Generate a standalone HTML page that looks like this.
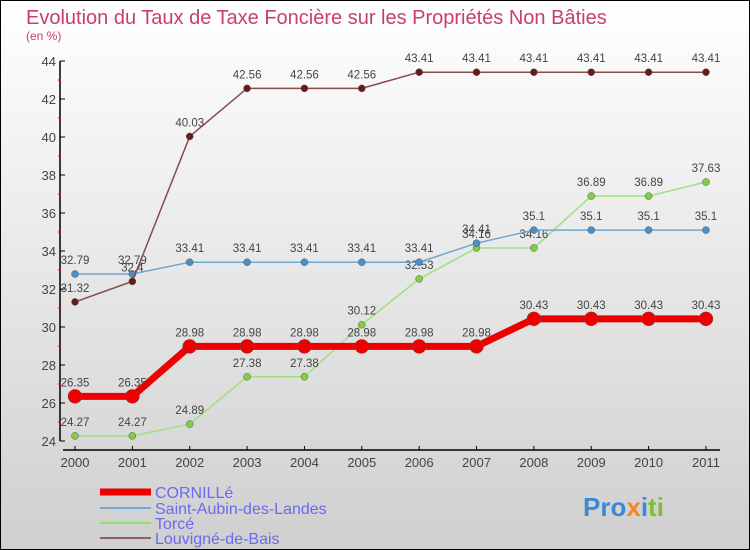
<!DOCTYPE html>
<html><head><meta charset="utf-8"><style>
body{margin:0;}
#c{width:750px;height:550px;position:relative;box-sizing:border-box;border:1px solid #000;background:linear-gradient(#ffffff,#cfcfcf);font-family:"Liberation Sans",sans-serif;overflow:hidden}
</style></head><body>
<div id="c">
<svg width="750" height="550" style="position:absolute;left:-1px;top:-1px" id="svg">
<text x="26" y="24" font-size="20" fill="#c8406a">Evolution du Taux de Taxe Foncière sur les Propriétés Non Bâties</text>
<text x="26" y="40" font-size="12" fill="#c8406a">(en %)</text>
<g id="axes"></g><g id="series"></g>
<g>
<line x1="100" y1="492" x2="151" y2="492" stroke="#e00" stroke-width="7"/>
<text x="155" y="498" font-size="16" fill="#6a6af0">CORNILLé</text>
<line x1="100" y1="508" x2="151" y2="508" stroke="#6fa8d0" stroke-width="2"/>
<text x="155" y="514" font-size="16" fill="#6a6af0">Saint-Aubin-des-Landes</text>
<line x1="100" y1="523" x2="151" y2="523" stroke="#90e070" stroke-width="2"/>
<text x="155" y="529" font-size="16" fill="#6a6af0">Torcé</text>
<line x1="100" y1="538" x2="151" y2="538" stroke="#906060" stroke-width="2"/>
<text x="155" y="544" font-size="16" fill="#6a6af0">Louvigné-de-Bais</text>
</g>
<text x="583" y="516" font-size="26" font-weight="bold"><tspan fill="#3a8ad8">Pro</tspan><tspan fill="#f08a20">x</tspan><tspan fill="#3a8ad8">i</tspan><tspan fill="#80c030">ti</tspan></text>
</svg>
</div>
<script>
const years=["2000","2001","2002","2003","2004","2005","2006","2007","2008","2009","2010","2011"];
const cornille=[26.35,26.35,28.98,28.98,28.98,28.98,28.98,28.98,30.43,30.43,30.43,30.43];
const saintAubin=[32.79,32.79,33.41,33.41,33.41,33.41,33.41,34.41,35.1,35.1,35.1,35.1];
const torce=[24.27,24.27,24.89,27.38,27.38,30.12,32.53,34.16,34.16,36.89,36.89,37.63];
const louvigne=[31.32,32.4,40.03,42.56,42.56,42.56,43.41,43.41,43.41,43.41,43.41,43.41];
const yTicks=[24,26,28,30,32,34,36,38,40,42,44];
const NS="http://www.w3.org/2000/svg";
const x=i=>75+i*57.36, y=v=>441-(v-24)*19;
function mk(t,a,p){const e=document.createElementNS(NS,t);for(const k in a)e.setAttribute(k,a[k]);p.appendChild(e);return e;}
const ax=document.getElementById('axes');
let e=mk('line',{x1:60,y1:61,x2:60,y2:441,stroke:'#000','stroke-width':1.5},ax);


e=mk('line',{x1:63,y1:450,x2:720,y2:450,stroke:'#000','stroke-width':1.5},ax);


yTicks.forEach(v=>{
 mk('line',{x1:60,y1:y(v),x2:65,y2:y(v),stroke:'#000'},ax);
 if(v<44)mk('line',{x1:58,y1:y(v+1),x2:61,y2:y(v+1),stroke:'#e00'},ax);
 const t=mk('text',{x:56,y:y(v)+5,'font-size':13,fill:'#444','text-anchor':'end'},ax);t.textContent=v;
 
 
});
years.forEach((yr,i)=>{
 mk('line',{x1:x(i),y1:446,x2:x(i),y2:450,stroke:'#000'},ax);
 const t=mk('text',{x:x(i),y:467,'font-size':13,fill:'#444','text-anchor':'middle'},ax);t.textContent=yr;
 
 
});
const sg=document.getElementById('series');
function series(vals,name,col,w,r,dot){
 const g=mk('g',{},sg);
 
 
 const pl=mk('polyline',{points:vals.map((v,i)=>x(i)+','+y(v)).join(' '),fill:'none',stroke:col,'stroke-width':w},g);
 
 
 vals.forEach((v,i)=>{
  const c=mk('circle',{cx:x(i),cy:y(v),r:r,fill:dot,stroke:'#555','stroke-width':0.5},g);
  
  
  const t=mk('text',{x:x(i),y:y(v)-10,'font-size':11.5,fill:'#444','text-anchor':'middle'},g);t.textContent=v;
  
  
 });
}
series(torce,'torce','#a0e080',1.5,3.5,'#80d040');
series(saintAubin,'saint-aubin','#6fa8d0',1.5,3.5,'#4a90c8');
series(louvigne,'louvigne','#8a4a4a',1.5,3.5,'#6a1a1a');
series(cornille,'cornille','#ee0000',7,7,'#ee0000');
</script>
</body></html>
